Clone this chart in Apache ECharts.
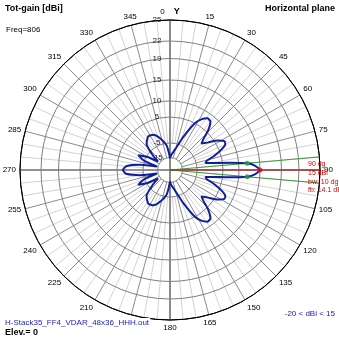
<!DOCTYPE html>
<html><head><meta charset="utf-8">
<script src="https://cdn.jsdelivr.net/npm/echarts@6/dist/echarts.min.js"></script>
<style>html,body{margin:0;padding:0;background:#fff}#c{width:339px;height:339px}</style>
</head><body><div id="c"></div>
<script>
// ---- data ----
const patternAngles = [0,4,8,15,22,28,32,36,40,44,47,50,54,58,62,65,68,72,76,79,81,83,85,87,90,93,95,97,99,101,104,108,112,115,118,122,126,130,133,136,140,144,148,152,158,165,172,176,180,184,188,197,205,213,222,230,235,240,245,250,255,260,265,270,275,280,285,290,295,300,305,310,318,327,335,343,352,356,360];
const patternGain   = [-15.5,-13.5,-12,-8,-1.5,5,7.2,8.4,8.1,5.6,2.3,0.4,2.7,5.9,7.7,7.5,5.9,2.7,-0.8,-1.5,1.9,7.2,12,13.8,15,13.8,12,7.2,1.9,-1.5,-0.8,2.7,5.9,7.5,7.7,5.9,2.7,0.4,2.3,5.6,8.1,8.4,7.2,5,-1.5,-8,-12,-13.5,-15.5,-11.4,-6.4,-2.7,-0.4,0,-1.9,-8.6,-13.6,-5.7,-1.9,-4.6,-14.3,-3.8,1.5,2.7,1.5,-3.8,-14.3,-4.6,-1.9,-5.7,-13.6,-8.6,-1.9,0,-0.4,-2.7,-6.4,-11.4,-15.5];
const ringLabels = [25,22,19,15,10,5,-5,-15];
const maxAngle = 90, maxGain = 15;
const bwAngles = [85,95], bwGain = 12;
const infoLines = ['90 dg','15 dBi','bw: 10 dg','fb: 14.1 dB'];

// ---- non-linear radial scale (dB -> radius units, outer ring = 150) ----
const scaleDb = [-24,-15,-5,5,10,15,19,22,25];
const scaleR  = [0,12.5,27,53,69,90,111.5,129,150];
function dbToR(d){
  if(d<=scaleDb[0]) return 0;
  for(let i=1;i<scaleDb.length;i++){
    if(d<=scaleDb[i]){const t=(d-scaleDb[i-1])/(scaleDb[i]-scaleDb[i-1]);return scaleR[i-1]+t*(scaleR[i]-scaleR[i-1]);}
  }
  return scaleR[scaleR.length-1];
}
const R = 150;

// grid items: [r0, angle, r1, kind]
const spokes = [];
for(let a=0;a<360;a+=5){
  if(a%90===0) spokes.push([0,a,R,2]);
  else if(a%15===0) spokes.push([dbToR(-15),a,R,1]);
  else spokes.push([dbToR(-5),a,R,0]);
}
const rings = ringLabels.map(v=>[dbToR(v),0,v]);

const chart = echarts.init(document.getElementById('c'),null,{renderer:'canvas'});
const FONT = 'Arial, "Liberation Sans", sans-serif';
chart.setOption({
  animation:false,
  polar:{center:[170,170],radius:R},
  angleAxis:{type:'value',min:0,max:360,interval:15,startAngle:90,clockwise:true,
    axisLine:{show:true,lineStyle:{color:'#000',width:1}},
    axisTick:{show:false},splitLine:{show:false},
    axisLabel:{margin:4,fontSize:8,color:'#000',fontFamily:FONT,
      formatter:v=>v===360?'':(v===0?'0    {y|Y}':String(v)),
      rich:{y:{fontWeight:'bold',fontSize:9,fontFamily:FONT,color:'#000'}}}},
  radiusAxis:{type:'value',min:0,max:R,axisLine:{show:false},axisTick:{show:false},axisLabel:{show:false},splitLine:{show:false}},
  series:[
    {type:'custom',coordinateSystem:'polar',z:1,silent:true,data:spokes,
     renderItem:(p,api)=>{
       const a=api.value(1),k=api.value(3);
       const p0=api.coord([api.value(0),a]),p1=api.coord([api.value(2),a]);
       const st=k===2?{stroke:'#6e6e6e',lineWidth:1.6}:(k===1?{stroke:'#8a8a8a',lineWidth:1}:{stroke:'#d2d2d2',lineWidth:1});
       return {type:'line',shape:{x1:p0[0],y1:p0[1],x2:p1[0],y2:p1[1]},style:st};
     }},
    {type:'custom',coordinateSystem:'polar',z:2,silent:true,data:rings,
     renderItem:(p,api)=>{
       const c=api.coord([0,0]),q=api.coord([api.value(0),0]);
       const r=Math.hypot(q[0]-c[0],q[1]-c[1]);
       const outer=api.value(2)===ringLabels[0];
       return {type:'circle',shape:{cx:c[0],cy:c[1],r:r},style:{fill:null,stroke:outer?'#000':'#7f7f7f',lineWidth:1}};
     }},
    {type:'custom',coordinateSystem:'polar',z:3,silent:true,data:rings,
     renderItem:(p,api)=>{
       const q=api.coord([api.value(0),0]);
       return {type:'text',x:q[0]-13,y:q[1],style:{text:String(api.value(2)),font:'8px '+FONT,fill:'#222',align:'center',verticalAlign:'middle'}};
     }},
    {type:'line',coordinateSystem:'polar',z:4,symbol:'none',silent:true,lineStyle:{color:'#3c9a3c',width:1},data:[[0,bwAngles[0]],[R,bwAngles[0]]]},
    {type:'line',coordinateSystem:'polar',z:4,symbol:'none',silent:true,lineStyle:{color:'#3c9a3c',width:1},data:[[0,bwAngles[1]],[R,bwAngles[1]]]},
    {type:'line',coordinateSystem:'polar',z:4,symbol:'none',silent:true,lineStyle:{color:'#b01818',width:1},data:[[0,maxAngle],[R,maxAngle]]},
    {type:'line',coordinateSystem:'polar',z:5,symbol:'none',silent:true,smooth:0.2,
     lineStyle:{color:'#0f1f9c',width:2},
     data:patternAngles.map((a,i)=>[dbToR(patternGain[i]),a])},
    {type:'scatter',coordinateSystem:'polar',z:6,symbolSize:5,silent:true,itemStyle:{color:'#22a022'},
     data:bwAngles.map(a=>[dbToR(bwGain),a])},
    {type:'scatter',coordinateSystem:'polar',z:6,symbolSize:5,silent:true,itemStyle:{color:'#e01010'},
     data:[[dbToR(maxGain),maxAngle]]}
  ],
  graphic:[
    {type:'text',x:5,y:9,z:10,style:{text:'Tot-gain [dBi]',font:'bold 9px '+FONT,fill:'#000',verticalAlign:'middle'}},
    {type:'text',x:6,y:30,z:10,style:{text:'Freq=806',font:'8px '+FONT,fill:'#000',verticalAlign:'middle'}},
    {type:'text',x:335,y:9,z:10,style:{text:'Horizontal plane',font:'bold 9px '+FONT,fill:'#000',align:'right',verticalAlign:'middle'}},
    {type:'text',x:5,y:323,z:10,style:{text:'H-Stack35_FF4_VDAR_48x36_HHH.out',font:'8px '+FONT,fill:'#1a1ab8',verticalAlign:'middle',backgroundColor:'#fff',padding:[1,1,1,0]}},
    {type:'text',x:5,y:333,z:10,style:{text:'Elev.= 0',font:'bold 9px '+FONT,fill:'#000',verticalAlign:'middle'}},
    {type:'text',x:335,y:314,z:10,style:{text:'-20 < dBi < 15',font:'8px '+FONT,fill:'#1a1ab8',align:'right',verticalAlign:'middle'}}
  ].concat(infoLines.map((t,i)=>({type:'text',x:308,y:[164,173.5,182,190][i],z:10,
     style:{text:t,font:'7px '+FONT,fill:'#c80000',verticalAlign:'middle'}})))
});
</script></body></html>
